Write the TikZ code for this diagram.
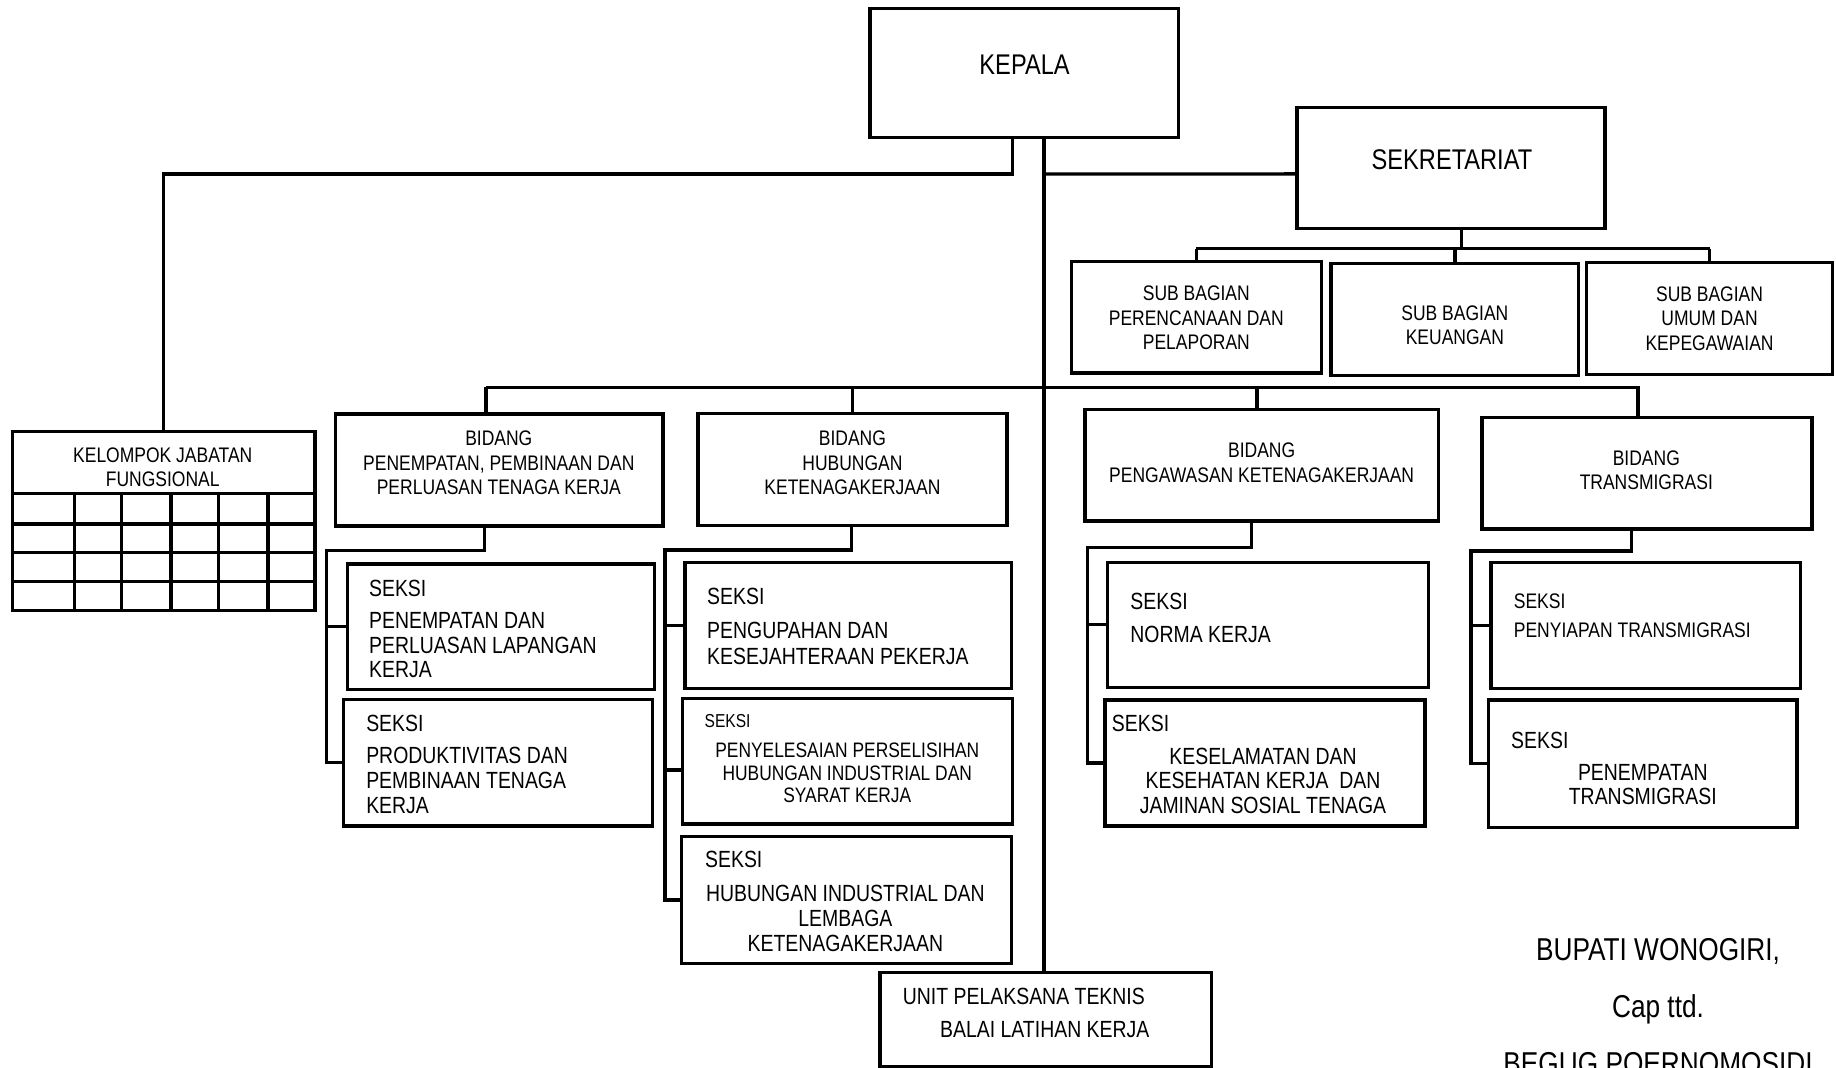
\documentclass[tikz,border=0pt]{standalone}
\usepackage{fontspec}
\setmainfont{Liberation Sans}[FakeStretch=0.83]
\usetikzlibrary{calc}
\usetikzlibrary{positioning}
\tikzset{unit/.style={rectangle,draw=black,line width=2.9pt,inner sep=0pt,outer sep=0pt}}
\tikzset{wire/.style={draw=black,line width=2.8pt}}
\tikzset{bigtxt/.style={inner sep=0pt,font=\fontsize{24.3}{29}\selectfont}}
\tikzset{midtxt/.style={inner sep=0pt,align=center,font=\fontsize{18}{21}\selectfont}}
\tikzset{sektxt/.style={inner sep=0pt,font=\fontsize{20}{21}\selectfont}}
\tikzset{tinytxt/.style={inner sep=0pt,font=\fontsize{16}{19}\selectfont}}

\begin{document}
\begin{tikzpicture}[x=1pt,y=-1pt]
\useasboundingbox (0,0) rectangle (1568,912);

% top
\node[unit,minimum width=263.6pt,minimum height=110.5pt] (kepala) at (874.8,62.4) {};
\node[bigtxt] (tkepala) at (875,55.5) {KEPALA};
\node[unit,minimum width=263.1pt,minimum height=103.6pt] (sek) at (1239.2,143.5) {};
\node[bigtxt] (tsek) at (1240,136) {SEKRETARIAT};

% sub bagian
\node[unit,minimum width=213.7pt,minimum height=95.2pt] (sb1) at (1021.7,271.1) {};
\node[unit,minimum width=211.6pt,minimum height=96pt] (sb2) at (1242.5,272.8) {};
\node[unit,minimum width=210pt,minimum height=96pt] (sb3) at (1460,272) {};
\node[midtxt] (tsb1) at (1021.7,271.5) {SUB BAGIAN\\PERENCANAAN DAN\\PELAPORAN};
\node[midtxt] (tsb2) at (1242.5,277.8) {SUB BAGIAN\\KEUANGAN};
\node[midtxt] (tsb3) at (1460,272) {SUB BAGIAN\\UMUM DAN\\KEPEGAWAIAN};

% kelompok jabatan fungsional
\node[unit,minimum width=258.3pt,minimum height=152.9pt] (kjf) at (139.9,445) {};
\node[midtxt] (tkjf) at (139,399) {KELOMPOK JABATAN\\FUNGSIONAL};
\draw[line width=2.9pt] (10.7,421.3) -- (269,421.3);
\foreach \y in {447.5,472,496.7}
  \draw[line width=2.9pt] (10.7,\y) -- (269,\y);
\foreach \x in {63.7,104,146,186.8,228.8}
  \draw[line width=2.9pt] (\x,421.3) -- (\x,521.5);

% bidang
\node[unit,minimum width=279.3pt,minimum height=95.5pt] (b1) at (426.4,401.3) {};
\node[unit,minimum width=264pt,minimum height=96pt] (b2) at (728,401) {};
\node[unit,minimum width=301.9pt,minimum height=95.5pt] (b3) at (1077.6,397.3) {};
\node[unit,minimum width=281.9pt,minimum height=95.4pt] (b4) at (1406.6,404.1) {};
\node[midtxt] (tb1) at (426,395.2) {BIDANG\\PENEMPATAN, PEMBINAAN DAN\\PERLUASAN TENAGA KERJA};
\node[midtxt] (tb2) at (728,395.2) {BIDANG\\HUBUNGAN\\KETENAGAKERJAAN};
\node[midtxt] (tb3) at (1077.5,395.1) {BIDANG\\PENGAWASAN KETENAGAKERJAAN};
\node[midtxt] (tb4) at (1406,401.6) {BIDANG\\TRANSMIGRASI};

% seksi
\node[unit,minimum width=262.4pt,minimum height=107.1pt] (s11) at (427.8,535.2) {};
\node[unit,minimum width=263.8pt,minimum height=108.2pt] (s12) at (425.5,651.3) {};
\node[unit,minimum width=279.1pt,minimum height=107.3pt] (s21) at (724.4,534.2) {};
\node[unit,minimum width=281.6pt,minimum height=107.3pt] (s22) at (723.8,650.1) {};
\node[unit,minimum width=282.1pt,minimum height=108.1pt] (s23) at (722.9,768.6) {};
\node[unit,minimum width=273.9pt,minimum height=106.8pt] (s31) at (1082.9,533.6) {};
\node[unit,minimum width=273.3pt,minimum height=107.6pt] (s32) at (1080.4,651.6) {};
\node[unit,minimum width=264.2pt,minimum height=107.5pt] (s41) at (1405.4,534.3) {};
\node[unit,minimum width=263.3pt,minimum height=108.7pt] (s42) at (1402.9,652.2) {};

\node[sektxt,align=left,anchor=west] (ts11) at (315,537) {SEKSI\\[6.6pt]PENEMPATAN DAN\\PERLUASAN LAPANGAN\\KERJA};
\node[sektxt,align=left,anchor=west] (ts12) at (312.6,652.9) {SEKSI\\[6.3pt]PRODUKTIVITAS DAN\\PEMBINAAN TENAGA\\KERJA};
\node[sektxt,align=left,anchor=west,font=\fontsize{20}{22.8}\selectfont] (ts21) at (603.8,535.2) {SEKSI\\[5.7pt]PENGUPAHAN DAN\\KESEJAHTERAAN PEKERJA};
\node[tinytxt,anchor=west] (ts22a) at (601.6,615.4) {SEKSI};
\node[midtxt,font=\fontsize{17.9}{19.2}\selectfont] (ts22b) at (723.6,660.3) {PENYELESAIAN PERSELISIHAN\\HUBUNGAN INDUSTRIAL DAN\\SYARAT KERJA};
\node[sektxt,anchor=west] (ts23a) at (602,734.4) {SEKSI};
\node[sektxt,align=center,font=\fontsize{20}{21.3}\selectfont] (ts23b) at (722,784.3) {HUBUNGAN INDUSTRIAL DAN\\LEMBAGA\\KETENAGAKERJAAN};
\node[sektxt,align=left,anchor=west,font=\fontsize{20}{22}\selectfont] (ts31) at (965.2,528) {SEKSI\\[6.5pt]NORMA KERJA};
\node[sektxt,anchor=west] (ts32a) at (949.4,617.7) {SEKSI};
\node[sektxt,align=center,font=\fontsize{20}{20.6}\selectfont] (ts32b) at (1078.6,666.9) {KESELAMATAN DAN\\KESEHATAN KERJA~ DAN\\JAMINAN SOSIAL TENAGA};
\node[midtxt,align=left,anchor=west,font=\fontsize{18}{21}\selectfont] (ts41) at (1292.7,525.9) {SEKSI\\[4.4pt]PENYIAPAN TRANSMIGRASI};
\node[sektxt,anchor=west] (ts42a) at (1290.4,632) {SEKSI};
\node[sektxt,align=center,font=\fontsize{20}{20.7}\selectfont] (ts42b) at (1403,670) {PENEMPATAN\\TRANSMIGRASI};

% unit pelaksana teknis
\node[unit,minimum width=283.2pt,minimum height=80.7pt] (upt) at (893.1,870.7) {};
\node[sektxt,anchor=west] (tupt1) at (770.9,851) {UNIT PELAKSANA TEKNIS};
\node[sektxt,anchor=west] (tupt2) at (802.7,879.6) {BALAI LATIHAN KERJA};

\node[align=center,inner sep=0pt,font=\fontsize{27}{48.5}\selectfont] (ttd) at (1416,859.5) {BUPATI WONOGIRI,\\Cap ttd.\\BEGUG POERNOMOSIDI};

% connectors
\draw[wire] ([xshift=-9.8pt]kepala.south) -- ++(0,31) -| (kjf.north);
\draw[wire,line width=3.2pt] ([xshift=-1.6pt]kepala.south -| upt.north) -- ([xshift=-1.6pt]upt.north);
\draw[wire] (kepala.south -| upt.north) ++(0,31) -- ([shift={(0,5)}]sek.west);
\draw[wire] ([xshift=9pt]sek.south) -- ++(0,17) coordinate (jsb);
\draw[wire] (jsb -| sb1.north) -- (jsb -| sb3.north);
\foreach \n in {sb1,sb2,sb3}
  \draw[wire] (jsb -| \n.north) -- (\n.north);

\draw[wire] ([xshift=-11.4pt]b1.north) -- ++(0,-22.8) coordinate (jb);
\coordinate (d3) at ([xshift=-4pt]b3.north);
\coordinate (d4) at ([xshift=-7.6pt]b4.north);
\draw[wire] (jb) -| (d4);
\draw[wire] (jb -| b2.north) -- (b2.north);
\draw[wire] (jb -| d3) -- (d3);

\draw[wire] ([xshift=-12.4pt]b1.south) -- ++(0,21) -| ([xshift=-14.6pt]s12.west) -- (s12.west);
\draw[wire] (s11.west) -- ++(-17.6,0);
\draw[wire] ([xshift=-1pt]b2.south) -- ++(0,20.7) -| ([xshift=-14pt]s23.west) -- (s23.west);
\draw[wire] (s21.west) -- ++(-17,0);
\draw[wire] ([shift={(0,7.5)}]s22.west) -- ++(-15.2,0);
\draw[wire] ([xshift=-8.6pt]b3.south) -- ++(0,22.7) -| ([xshift=-14.9pt]s32.west) -- (s32.west);
\draw[wire] (s31.west) -- ++(-17.1,0);
\draw[wire] ([xshift=-13.3pt]b4.south) -- ++(0,18.7) -| ([xshift=-15pt]s42.west) -- (s42.west);
\draw[wire] (s41.west) -- ++(-17.1,0);
\end{tikzpicture}
\end{document}
